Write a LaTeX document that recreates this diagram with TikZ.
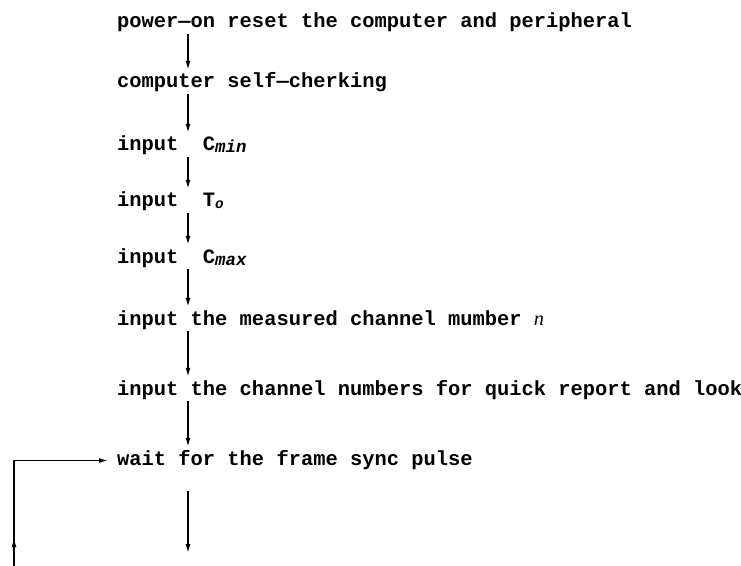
\documentclass[tikz,border=0pt]{standalone}
\usepackage{fontspec}
\setmainfont{Liberation Mono}
\newfontfamily\varfont{Liberation Serif}
\usetikzlibrary{arrows.meta,decorations.markings}

\tikzset{
  stepline/.style={font=\bfseries\fontsize{20.5}{24}\selectfont, anchor=base west,
    inner sep=0pt, text height=13bp, text depth=4bp},
  flowtip/.tip={Latex[length=9bp,width=5bp]},
  flow/.style={line width=1.4bp, -flowtip, shorten <=2bp, shorten >=5bp},
}
\newcommand{\lowsub}[2][0.8]{\raisebox{-2bp}{\fontsize{#1\dimexpr 20.5pt\relax}{12}\selectfont\itshape #2}}

\begin{document}
\begin{tikzpicture}[x=1bp,y=-1bp]
  \useasboundingbox (0,0) rectangle (741,566);

  % the program steps, one per line
  \node[stepline] (s1) at (117,28)  {power—on reset the computer and peripheral};
  \node[stepline] (s2) at (117,88)  {computer self—cherking};
  \node[stepline] (s3) at (117,151) {input~~C\lowsub[0.85]{min}};
  \node[stepline] (s4) at (117,207) {input~~T\lowsub[0.7]{o}};
  \node[stepline] (s5) at (117,263) {input~~C\lowsub[0.85]{max}};
  \node[stepline] (s6) at (117,325) {input the measured channel mumber {\mdseries\varfont\itshape n}};
  \node[stepline] (s7) at (117,395) {input the channel numbers for quick report and look};
  \node[stepline] (s8) at (117,465) {wait for the frame sync pulse};

  % flow column and free ends
  \coordinate (ax) at (188,0);
  \coordinate (fend) at (188,553);
  \coordinate (lb) at (14,566);

  \draw[flow] (s1.south -| ax) -- (s2.north -| ax);
  \draw[flow] (s2.south -| ax) -- (s3.north -| ax);
  \draw[flow] (s3.south -| ax) -- (s4.north -| ax);
  \draw[flow] (s4.south -| ax) -- (s5.north -| ax);
  \draw[flow] (s5.south -| ax) -- (s6.north -| ax);
  \draw[flow] (s6.south -| ax) -- (s7.north -| ax);
  \draw[flow] (s7.south -| ax) -- (s8.north -| ax);
  \draw[flow, shorten <=22bp, shorten >=0bp] (s8.south -| ax) -- (fend);

  % loop back into the wait step
  \draw[flow, shorten <=0bp, shorten >=9bp,
    postaction={decorate},
    decoration={markings, mark=at position 28bp with {\arrow{flowtip}}}]
    (lb) |- (s8.west);
\end{tikzpicture}
\end{document}
